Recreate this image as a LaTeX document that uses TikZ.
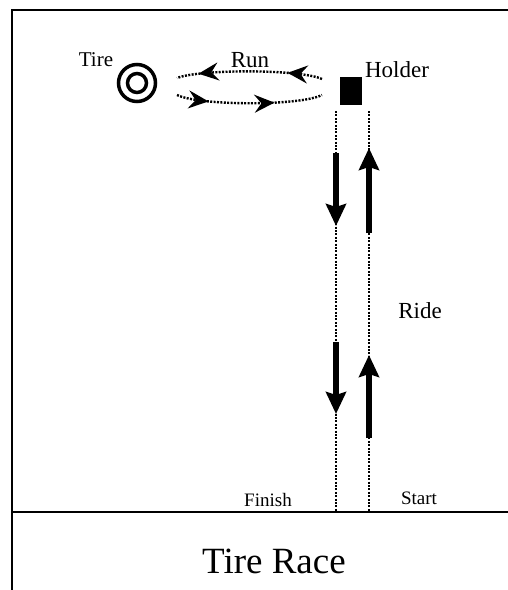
\documentclass[tikz,border=0pt]{standalone}
\usepackage{fontspec}
\setmainfont{Liberation Serif}
\usetikzlibrary{arrows.meta,decorations.markings}

\begin{document}
\begin{tikzpicture}[x=1pt, y=-1pt,
	every node/.style={text centered, inner sep=0pt},
	lane/.style={dash pattern=on 2pt off 1.4pt, line width=2.4pt},
	runpath/.style={dash pattern=on 2pt off 1.4pt, line width=2.4pt},
	rideshaft/.style={line width=5.5pt, -{Stealth[length=22pt, width=20pt, inset=3pt]}},
	runmark/.style={postaction={decorate, decoration={markings,
		mark=at position #1 with {\arrow{Stealth[length=20pt, width=18pt, inset=7pt]}}}}}]
	\useasboundingbox (0,0) rectangle (508,590);

	% frame
	\draw[line width=2.2pt] (12,590) -- (12,10) -- (520,10);
	\draw[line width=2.2pt] (12,512) -- (520,512);

	% tire and holder
	\node[circle, draw, line width=3.5pt, minimum size=37pt] (tire) at (137,83) {};
	\node[circle, draw, line width=3.5pt, minimum size=19pt] (tirein) at (tire) {};
	\node[fill, minimum width=22pt, minimum height=28pt] (holder) at (351,91) {};

	\draw	(96,60)		node (tirelbl) {\fontsize{21}{21}\selectfont Tire}
		(250,60)	node (runlbl) {\fontsize{23}{23}\selectfont Run}
		(397,70)	node (holderlbl) {\fontsize{23}{23}\selectfont Holder}
		(420,311)	node (ridelbl) {\fontsize{23}{23}\selectfont Ride}
		(268,500)	node (finishlbl) {\fontsize{19}{19}\selectfont Finish}
		(419,498)	node (startlbl) {\fontsize{19}{19}\selectfont Start}
		(274,561)	node (title) {\fontsize{37}{37}\selectfont Tire Race};

	% run loop
	\coordinate (runA) at (322,79);
	\coordinate (runB) at (177,78);
	\coordinate (runC) at (177,95);
	\coordinate (runD) at (322,95);
	\draw[runpath, runmark=0.24, runmark=0.85]
		(runA) .. controls (300,69) and (200,69) .. (runB);
	\draw[runpath, runmark=0.22, runmark=0.67]
		(runC) .. controls (200,106) and (300,106) .. (runD);

	% lanes
	\coordinate (fintop) at (336,111);
	\coordinate (finbot) at (336,512);
	\coordinate (starttop) at (369,111);
	\coordinate (startbot) at (369,512);
	\draw[lane] (fintop) -- (finbot);
	\draw[lane] (starttop) -- (startbot);

	% ride arrows
	\coordinate (down1s) at (336,153);
	\coordinate (down1e) at (336,226);
	\coordinate (down2s) at (336,342);
	\coordinate (down2e) at (336,414);
	\coordinate (up1s) at (369,233);
	\coordinate (up1e) at (369,148);
	\coordinate (up2s) at (369,438);
	\coordinate (up2e) at (369,355);
	\draw[rideshaft] (down1s) -- (down1e);
	\draw[rideshaft] (down2s) -- (down2e);
	\draw[rideshaft] (up1s) -- (up1e);
	\draw[rideshaft] (up2s) -- (up2e);
\end{tikzpicture}
\end{document}
